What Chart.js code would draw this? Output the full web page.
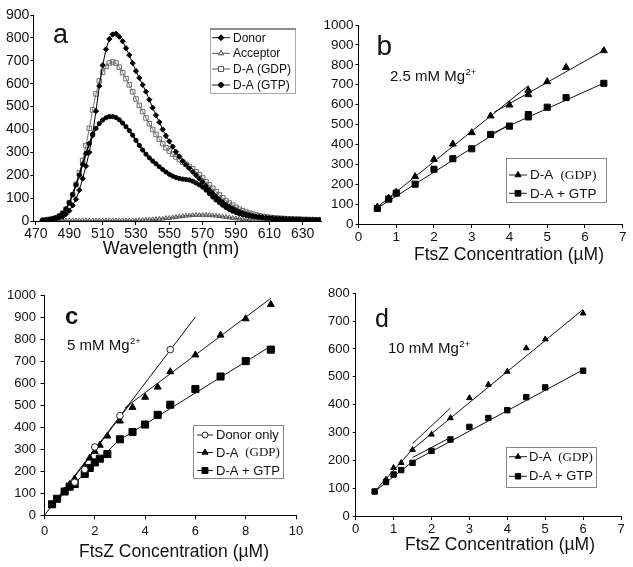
<!DOCTYPE html>
<html><head><meta charset="utf-8">
<script src="https://cdn.jsdelivr.net/npm/chart.js"></script>
<style>
html,body{margin:0;padding:0;background:#fff;}
#wrap{position:relative;width:633px;height:567px;overflow:hidden;background:#fff;}
canvas{position:absolute;left:0;top:0;}
</style></head><body>
<div id="wrap">
<canvas id="ca" width="633" height="567"></canvas>
<canvas id="cb" width="633" height="567"></canvas>
<canvas id="cc" width="633" height="567"></canvas>
<canvas id="cd" width="633" height="567"></canvas>
</div>
<script>
// ---------- Panel a: emission spectra ----------
const wavelengthsA = [474,476,478,480,482,484,486,488,490,492,
  494,496,498,500,502,504,506,508,510,512,
  514,516,518,520,522,524,526,528,530,532,
  534,536,538,540,542,544,546,548,550,552,
  554,556,558,560,562,564,566,568,570,572,
  574,576,578,580,582,584,586,588,590,592,
  594,596,598,600,602,604,606,608,610,612,
  614,616,618,620,622,624,626,628,630,632,
  634,636,638,640];
const donorA = [3,4,6,8,11,15,19,30,45,68,
  95,135,185,240,300,380,480,590,680,750,
  795,815,818,805,785,755,725,690,655,625,
  595,565,530,495,462,432,400,372,348,325,
  302,282,262,245,230,215,200,185,170,153,
  137,122,107,94,82,71,62,54,47,40,
  35,30,26,22,20,18,16,14,13,12,
  11,10,10,9,8,8,7,7,6,6,
  5,5,5,4];
const acceptorA = [2,2,2,2,2,2,2,2,2,2,
  2,2,2,2,2,2,2,2,2,2,
  2,2,2,2,2,2,2,2,2,3,
  4,5,6,7,8,9,10,12,13,15,
  17,19,21,23,24,25,26,26,26,26,
  25,24,23,21,19,17,15,13,11,10,
  8,7,6,5,5,4,4,3,3,3,
  3,3,2,2,2,2,2,2,2,2,
  2,2,2,2];
const gdpA = [3,5,7,10,14,22,34,52,80,115,
  160,210,265,330,405,485,555,612,650,675,
  690,695,690,672,648,622,595,565,533,505,
  478,450,425,400,378,358,338,320,305,292,
  280,268,257,248,238,228,215,202,188,172,
  158,143,128,114,101,89,78,69,60,52,
  45,39,34,30,26,23,20,18,16,14,
  13,12,11,10,9,9,8,8,7,7,
  6,6,5,5];
const gtpA = [3,5,7,10,14,22,34,52,80,115,
  158,200,248,295,338,375,405,426,441,451,
  456,456,452,442,428,412,395,375,352,330,
  310,292,276,262,250,237,225,214,204,196,
  190,186,183,181,179,174,166,158,148,135,
  120,105,92,80,69,59,50,43,37,32,
  28,25,22,20,18,16,14,13,12,11,
  10,9,9,8,8,7,7,6,6,6,
  5,5,5,4];
const xTicksA = [470,490,510,530,550,570,590,610,630];
const yTicksA = [0,100,200,300,400,500,600,700,800,900];

// ---------- Panel b: 2.5 mM Mg ----------
const concB = [0.5,0.8,1.0,1.5,2.0,2.5,3.0,3.5,4.0,4.5,4.5,5.0,5.5,6.5];
const gdpB  = [85,130,160,238,325,402,459,543,598,650,672,715,787,871];
const gtpB  = [78,125,155,200,275,328,378,450,492,538,550,587,635,707];
const fitGdpB1 = [[0.5,85],[4.5,695]];
const fitGdpB2 = [[3.6,562],[6.5,872]];
const fitGtpB1 = [[0.5,80],[4.0,502]];
const fitGtpB2 = [[3.5,452],[6.5,708]];
const xTicksB = [0,1,2,3,4,5,6,7];
const yTicksB = [0,100,200,300,400,500,600,700,800,900,1000];

// ---------- Panel c: 5 mM Mg ----------
const concDonorC = [1.2,1.6,2.0,3.0,5.0];
const donorC     = [150,208,310,452,752];
const concGdpC = [0.8,1.0,1.2,1.6,1.8,2.0,2.2,2.5,3.0,3.5,4.0,4.5,5.0,6.0,7.0,8.0,9.0];
const gdpC     = [110,140,165,220,260,290,318,360,428,490,536,582,652,728,818,892,957];
const concGtpC = [0.3,0.5,0.8,1.0,1.2,1.6,1.8,2.0,2.2,2.5,3.0,3.5,4.0,4.5,5.0,6.0,7.0,8.0,9.0];
const gtpC     = [50,75,108,130,142,188,215,240,257,278,345,378,412,456,502,573,630,700,752];
const fitDonorC = [[0,0],[6,900]];
const fitGdpC1 = [[0.5,70],[3.4,505]];
const fitGdpC2 = [[3.2,488],[9,985]];
const fitGtpC1 = [[0.2,35],[3.0,345]];
const fitGtpC2 = [[3.0,343],[9.0,768]];
const xTicksC = [0,2,4,6,8,10];
const yTicksC = [0,100,200,300,400,500,600,700,800,900,1000];

// ---------- Panel d: 10 mM Mg ----------
const concD = [0.5,0.8,1.0,1.2,1.5,2.0,2.5,3.0,3.5,4.0,4.5,5.0,6.0];
const gdpD  = [88,131,173,191,238,293,352,424,472,519,603,635,728];
const gtpD  = [88,122,149,165,191,234,275,320,352,380,427,462,522];
const fitGdpD1 = [[0.5,88],[1.5,240],[6.0,742]];
const fitGdpD2 = [[1.5,260],[2.5,388]];
const fitGtpD1 = [[0.5,88],[1.5,195],[6.0,525]];
const fitGtpD2 = [[1.5,210],[2.5,282]];
const xTicksD = [0,1,2,3,4,5,6,7];
const yTicksD = [0,100,200,300,400,500,600,700,800];

// ---------- helpers ----------
const SANS = '"Liberation Sans", Arial, sans-serif';
const SERIF = '"Liberation Serif", "Times New Roman", serif';
const INK = '#111';

function pts(xs, ys){ return xs.map((x,i)=>({x:x, y:ys[i]})); }
function pairPts(arr){ return arr.map(p=>({x:p[0], y:p[1]})); }

function markerPath(ctx, style, x, y, r){
  ctx.beginPath();
  if (style === 'circle') { ctx.arc(x, y, r, 0, Math.PI*2); }
  else if (style === 'rect') { const s = r*Math.SQRT1_2; ctx.rect(x-s, y-s, 2*s, 2*s); }
  else if (style === 'rectRot') { ctx.moveTo(x, y-r); ctx.lineTo(x+r, y); ctx.lineTo(x, y+r); ctx.lineTo(x-r, y); ctx.closePath(); }
  else if (style === 'triangle') {
    let a = 0;
    ctx.moveTo(x + Math.sin(a)*r, y - Math.cos(a)*r);
    a += 2*Math.PI/3; ctx.lineTo(x + Math.sin(a)*r, y - Math.cos(a)*r);
    a += 2*Math.PI/3; ctx.lineTo(x + Math.sin(a)*r, y - Math.cos(a)*r);
    ctx.closePath();
  }
}

const decoPlugin = {
  id: 'deco',
  afterDraw(chart, args, o) {
    const ctx = chart.ctx;
    ctx.save();
    ctx.fillStyle = INK;
    ctx.textBaseline = 'alphabetic';
    ctx.textAlign = 'left';
    if (o.letter) { ctx.font = o.letter.font; ctx.fillText(o.letter.t, o.letter.x, o.letter.y); }
    if (o.mg) {
      ctx.font = '15px ' + SANS;
      ctx.fillText(o.mg.t, o.mg.x, o.mg.y);
      const w = ctx.measureText(o.mg.t).width;
      ctx.font = '9.5px ' + SANS;
      ctx.fillText('2+', o.mg.x + w + 0.5, o.mg.y - 6.5);
    }
    if (o.title) {
      ctx.font = o.title.size + 'px ' + SANS;
      ctx.textAlign = 'center';
      ctx.textBaseline = 'middle';
      ctx.fillText(o.title.t, o.title.x, o.title.y);
    }
    if (o.legend) {
      const L = o.legend;
      ctx.lineWidth = 1;
      ctx.strokeStyle = L.boxColor || '#777';
      ctx.strokeRect(L.box[0]+0.5, L.box[1]+0.5, L.box[2], L.box[3]);
      if (L.topColor) { ctx.strokeStyle = L.topColor; ctx.lineWidth = 1.6; ctx.beginPath(); ctx.moveTo(L.box[0], L.box[1]+0.5); ctx.lineTo(L.box[0]+L.box[2]+1, L.box[1]+0.5); ctx.stroke(); }
      L.items.forEach(it => {
        ctx.strokeStyle = it.line || '#222';
        ctx.lineWidth = 1;
        ctx.beginPath(); ctx.moveTo(L.lineX[0], it.y); ctx.lineTo(L.lineX[1], it.y); ctx.stroke();
        const mx = (L.lineX[0] + L.lineX[1]) / 2;
        markerPath(ctx, it.m.style, mx, it.y, it.m.r);
        if (it.m.fill) { ctx.fillStyle = it.m.fill; ctx.fill(); }
        ctx.strokeStyle = it.m.stroke; ctx.lineWidth = it.m.lw || 1; ctx.stroke();
        let x = L.textX;
        ctx.fillStyle = INK; ctx.textAlign = 'left'; ctx.textBaseline = 'middle';
        it.segs.forEach(s => {
          ctx.font = L.font + 'px ' + (s[1] === 'serif' ? SERIF : SANS);
          ctx.fillText(s[0], x, it.y + 0.5);
          x += ctx.measureText(s[0]).width;
        });
      });
    }
    ctx.restore();
  }
};

function makeChart(id, P) {
  const W = 633, H = 567;
  const padLeft = Math.max(0, P.area.l - 45);
  const yW = P.area.l - padLeft;
  const xH = 40;
  const fs = P.fontSize;
  return new Chart(document.getElementById(id), {
    type: 'scatter',
    data: { datasets: P.datasets },
    options: {
      responsive: false, animation: false, devicePixelRatio: 1,
      events: [],
      layout: { padding: { left: padLeft, top: P.area.t, right: W - P.area.r, bottom: H - P.area.b - xH } },
      plugins: { legend: { display: false }, tooltip: { enabled: false }, deco: P.deco },
      scales: {
        x: {
          type: 'linear', min: P.xMin, max: P.xMax,
          afterBuildTicks: s => { s.ticks = P.xTicks.map(v => ({ value: v })); },
          afterFit: s => { s.height = xH; },
          ticks: { font: { size: fs, family: SANS }, color: INK, padding: P.xPad, autoSkip: false, maxRotation: 0, callback: v => String(v) },
          grid: { drawOnChartArea: false, drawTicks: true, tickLength: P.xTL, color: '#000', lineWidth: 1 },
          border: { display: true, color: '#000', width: 1 }
        },
        y: {
          type: 'linear', min: P.yMin, max: P.yMax,
          afterBuildTicks: s => { s.ticks = P.yTicks.map(v => ({ value: v })); },
          afterFit: s => { s.width = yW; },
          ticks: { font: { size: fs, family: SANS }, color: INK, padding: P.yPad, autoSkip: false, callback: v => String(v) },
          grid: { drawOnChartArea: false, drawTicks: true, tickLength: P.yTL, color: '#000', lineWidth: 1 },
          border: { display: true, color: '#000', width: 1 }
        }
      }
    },
    plugins: [decoPlugin]
  });
}

function ptsDS(data, style, r, fill, stroke) {
  return { data: data, showLine: false, pointStyle: style, pointRadius: r, pointBackgroundColor: fill, pointBorderColor: stroke, pointBorderWidth: 1 };
}
function lineDS(data) {
  return { data: data, showLine: true, pointRadius: 0, borderColor: '#111', borderWidth: 1, tension: 0, fill: false };
}
function specDS(ys, style, r, fill, stroke, lw, lc) {
  return { data: pts(wavelengthsA, ys), showLine: true, tension: 0, borderColor: lc, borderWidth: lw,
           pointStyle: style, pointRadius: r, pointBackgroundColor: fill, pointBorderColor: stroke, pointBorderWidth: 1 };
}

// ---------- Panel a ----------
makeChart('ca', {
  area: { l: 33.3, t: 15, r: 321, b: 221 },
  xMin: 468.4, xMax: 641, xTicks: xTicksA, yMin: 0, yMax: 900, yTicks: yTicksA,
  fontSize: 14, xTL: 4, xPad: 0.6, yTL: 3, yPad: 1,
  datasets: [
    specDS(gtpA, 'circle', 2.1, '#000', '#000', 1.6, '#000'),
    specDS(donorA, 'rectRot', 2.6, '#000', '#000', 1, '#000'),
    specDS(gdpA, 'rect', 3.2, 'rgba(255,255,255,0)', '#6b6b6b', 1, '#777'),
    specDS(acceptorA, 'triangle', 2.6, 'rgba(255,255,255,0)', '#555', 1, '#555')
  ],
  deco: {
    letter: { t: 'a', font: '27px ' + SANS, x: 53, y: 43 },
    title: { t: 'Wavelength (nm)', x: 171, y: 249, size: 18 },
    legend: {
      box: [210, 28.5, 85, 64.5], boxColor: '#aaa', topColor: '#777',
      lineX: [212, 230], textX: 233, font: 12,
      items: [
        { y: 37.7, m: { style: 'rectRot', r: 3, fill: '#000', stroke: '#000' }, segs: [['Donor', 'sans']] },
        { y: 53.3, m: { style: 'triangle', r: 3, fill: '#fff', stroke: '#444' }, line: '#555', segs: [['Acceptor', 'sans']] },
        { y: 69, m: { style: 'rect', r: 3.6, fill: '#fff', stroke: '#555' }, line: '#555', segs: [['D-A (GDP)', 'sans']] },
        { y: 85, m: { style: 'circle', r: 2.4, fill: '#000', stroke: '#000' }, segs: [['D-A (GTP)', 'sans']] }
      ]
    }
  }
});

// ---------- Panel b ----------
makeChart('cb', {
  area: { l: 358.5, t: 25, r: 622.7, b: 224 },
  xMin: 0, xMax: 7, xTicks: xTicksB, yMin: 0, yMax: 1000, yTicks: yTicksB,
  fontSize: 13.5, xTL: 4, xPad: 1, yTL: 3, yPad: 2,
  datasets: [
    ptsDS(pts(concB, gdpB), 'triangle', 4, '#000', '#000'),
    ptsDS(pts(concB, gtpB), 'rect', 4.3, '#000', '#000'),
    lineDS(pairPts(fitGdpB1)), lineDS(pairPts(fitGdpB2)),
    lineDS(pairPts(fitGtpB1)), lineDS(pairPts(fitGtpB2))
  ],
  deco: {
    letter: { t: 'b', font: '28px ' + SANS, x: 376.5, y: 55 },
    mg: { t: '2.5 mM Mg', x: 390, y: 81 },
    title: { t: 'FtsZ Concentration (µM)', x: 509, y: 255, size: 17.5 },
    legend: {
      box: [506, 158, 100, 44], boxColor: '#888',
      lineX: [509, 527], textX: 530, font: 13.5,
      items: [
        { y: 175, m: { style: 'triangle', r: 3.5, fill: '#000', stroke: '#000' }, segs: [['D-A ', 'sans'], [' (GDP)', 'serif']] },
        { y: 193.3, m: { style: 'rect', r: 4, fill: '#000', stroke: '#000' }, segs: [['D-A + GTP', 'sans']] }
      ]
    }
  }
});

// ---------- Panel c ----------
makeChart('cc', {
  area: { l: 44.5, t: 295, r: 296, b: 515.3 },
  xMin: 0, xMax: 10, xTicks: xTicksC, yMin: 0, yMax: 1000, yTicks: yTicksC,
  fontSize: 13, xTL: 4, xPad: 4, yTL: 4, yPad: 4.5,
  datasets: [
    ptsDS(pts(concDonorC, donorC), 'circle', 3.3, '#fff', '#222'),
    ptsDS(pts(concGdpC, gdpC), 'triangle', 4, '#000', '#000'),
    ptsDS(pts(concGtpC, gtpC), 'rect', 5, '#000', '#000'),
    lineDS(pairPts(fitDonorC)),
    lineDS(pairPts(fitGdpC1)), lineDS(pairPts(fitGdpC2)),
    lineDS(pairPts(fitGtpC1)), lineDS(pairPts(fitGtpC2))
  ],
  deco: {
    letter: { t: 'c', font: 'bold 24px ' + SANS, x: 65, y: 323.5 },
    mg: { t: '5 mM Mg', x: 67, y: 350 },
    title: { t: 'FtsZ Concentration (µM)', x: 174, y: 552.5, size: 17.5 },
    legend: {
      box: [193, 425, 90, 53], boxColor: '#888',
      lineX: [197, 213], textX: 216, font: 13,
      items: [
        { y: 435, m: { style: 'circle', r: 3, fill: '#fff', stroke: '#222' }, segs: [['Donor only', 'sans']] },
        { y: 452.5, m: { style: 'triangle', r: 3.5, fill: '#000', stroke: '#000' }, segs: [['D-A ', 'sans'], [' (GDP)', 'serif']] },
        { y: 470.5, m: { style: 'rect', r: 4.2, fill: '#000', stroke: '#000' }, segs: [['D-A + GTP', 'sans']] }
      ]
    }
  }
});

// ---------- Panel d ----------
makeChart('cd', {
  area: { l: 355.7, t: 293.3, r: 621, b: 516 },
  xMin: 0, xMax: 7, xTicks: xTicksD, yMin: 0, yMax: 800, yTicks: yTicksD,
  fontSize: 13, xTL: 4, xPad: 2, yTL: 3, yPad: 3,
  datasets: [
    ptsDS(pts(concD, gdpD), 'triangle', 3.3, '#000', '#000'),
    ptsDS(pts(concD, gtpD), 'rect', 3.8, '#000', '#000'),
    lineDS(pairPts(fitGdpD1)), lineDS(pairPts(fitGdpD2)),
    lineDS(pairPts(fitGtpD1)), lineDS(pairPts(fitGtpD2))
  ],
  deco: {
    letter: { t: 'd', font: '25px ' + SANS, x: 375, y: 326.5 },
    mg: { t: '10 mM Mg', x: 388, y: 353 },
    title: { t: 'FtsZ Concentration (µM)', x: 500, y: 545, size: 17.5 },
    legend: {
      box: [506, 447, 90, 40], boxColor: '#888',
      lineX: [509, 527], textX: 529, font: 13,
      items: [
        { y: 456.7, m: { style: 'triangle', r: 3.2, fill: '#000', stroke: '#000' }, segs: [['D-A ', 'sans'], [' (GDP)', 'serif']] },
        { y: 476.3, m: { style: 'rect', r: 3.8, fill: '#000', stroke: '#000' }, segs: [['D-A + GTP', 'sans']] }
      ]
    }
  }
});
</script>
</body></html>
